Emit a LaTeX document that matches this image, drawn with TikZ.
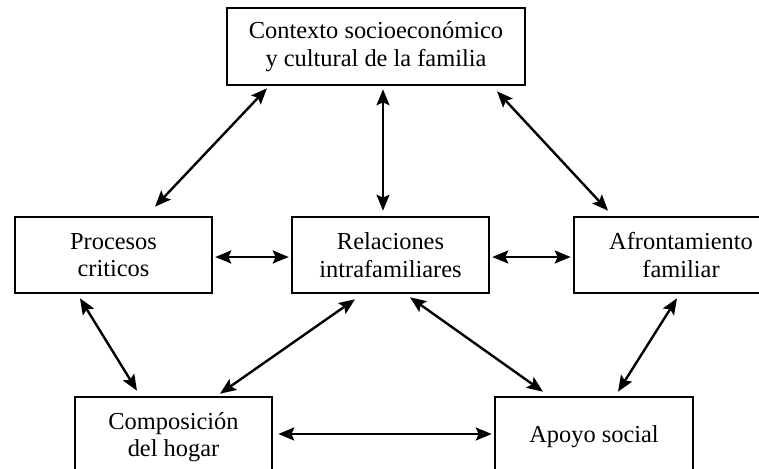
\documentclass[tikz,border=0pt]{standalone}
\usepackage{fontspec}
\setmainfont{Liberation Serif}
\usetikzlibrary{arrows.meta,calc}
\tikzset{
  box/.style={draw=black, line width=1.3pt, fill=white, align=center,
    inner sep=0pt, font=\fontsize{12.2}{13.8}\selectfont},
  tip/.tip={Stealth[length=8pt,width=6.5pt,inset=1.5pt]},
  link/.style={line width=1.2pt, tip-tip}
}
\begin{document}
\begin{tikzpicture}[x=0.5pt,y=-0.5pt]
\useasboundingbox (0,0) rectangle (759,469);
\fill[white] (0,0) rectangle (759,469);
\clip (0,0) rectangle (759,469);
\node[box, minimum width=149pt, minimum height=38.5pt] (top) at (376,46.5)
  {Contexto socioeconómico\\y cultural de la familia};
\node[box, minimum width=98.5pt, minimum height=38pt] (proc) at (113.5,255)
  {Procesos\\criticos};
\node[box, minimum width=98.5pt, minimum height=38pt] (rel) at (390.5,255)
  {Relaciones\\intrafamiliares};
\node[box, minimum width=107pt, minimum height=38pt] (afr) at (681,255)
  {Afrontamiento\\familiar};
\node[box, minimum width=98.5pt, minimum height=40pt] (comp) at (173.5,437)
  {Composición\\del hogar};
\node[box, minimum width=99pt, minimum height=40pt] (apo) at (594,437)
  {Apoyo social};
\draw[link] ($(top.south)+(-109,2)$) -- ($(proc.north)+(41.5,-9)$);
\draw[link] ($(top.south)+(7,3)$) -- ($(rel.north)+(-7.5,-5)$);
\draw[link] ($(top.south)+(121,5)$) -- ($(afr.north)+(-73,-5)$);
\draw[link] ($(proc.east)+(2,2)$) -- ($(rel.west)+(-2,2)$);
\draw[link] ($(rel.east)+(2,2)$) -- ($(afr.west)+(-2,2)$);
\draw[link] ($(proc.south)+(-33.5,4)$) -- ($(comp.north)+(-36.5,-5)$);
\draw[link] ($(rel.south)+(-35.5,5)$) -- ($(comp.north)+(46.5,-2)$);
\draw[link] ($(rel.south)+(19.5,3)$) -- ($(apo.north)+(-51,-4)$);
\draw[link] ($(afr.south)+(-4,4)$) -- ($(apo.north)+(24,-4)$);
\draw[link] ($(comp.east)+(5,-3)$) -- ($(apo.west)+(-2,-3)$);
\end{tikzpicture}
\end{document}
